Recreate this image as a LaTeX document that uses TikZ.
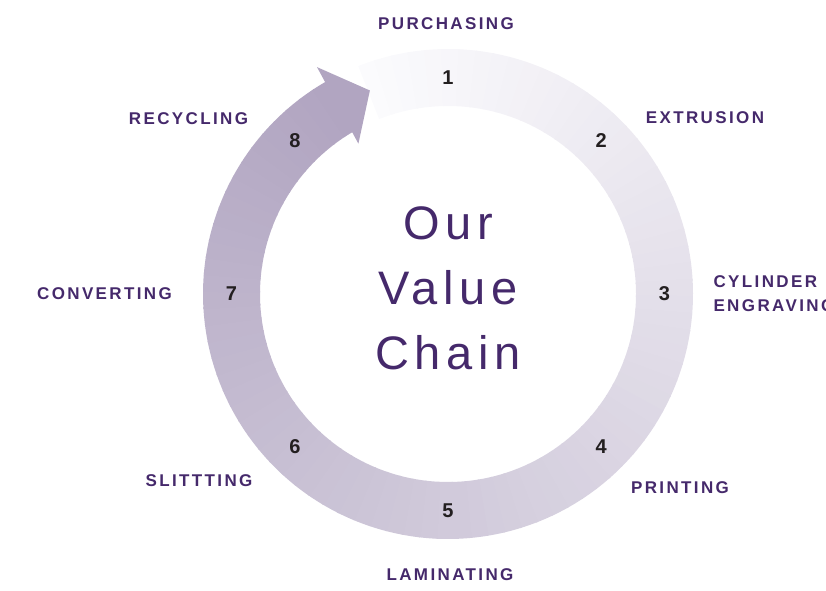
\documentclass[tikz,border=0pt]{standalone}
\usepackage{fontspec}
\setmainfont{Liberation Sans}
\newfontfamily\labelfont[LetterSpace=14]{Liberation Sans}
\newfontfamily\titlefont[LetterSpace=12]{Liberation Sans}
\definecolor{chainpurple}{HTML}{45296B}
\definecolor{ringstart}{HTML}{FBFBFD}
\definecolor{ringend}{HTML}{B1A5C1}
\definecolor{numgray}{HTML}{231F20}
\tikzset{
  steplabel/.style={text=chainpurple,font=\labelfont\bfseries\fontsize{17}{24}\selectfont},
  stepnum/.style={text=numgray,font=\bfseries\fontsize{20}{24}\selectfont},
  chaintitle/.style={text=chainpurple,align=center,font=\titlefont\fontsize{47}{65}\selectfont}
}
\begin{document}
\begin{tikzpicture}[x=1pt,y=1pt]
  \useasboundingbox (0,0) rectangle (826,590);
  \coordinate (c) at (448,296);
  % ring in small wedges, light to dark
  \foreach \i in {0,...,87}{
    \pgfmathsetmacro\a{111.5-4*\i}
    \pgfmathsetmacro\b{\a-4.4}
    \pgfmathsetmacro\p{100*\i/87}
    \fill[ringend!\p!ringstart,shift={(c)}] (\a:245) arc[start angle=\a,end angle=\b,radius=245]
      -- (\b:188) arc[start angle=\b,end angle=\a,radius=188] -- cycle;
  }
  % arrow head
  \fill[ringend,shift={(c)}] (120:262) -- (111:218) -- (120.8:175) -- cycle;
  % numbers
  \foreach \k in {1,...,8}
    \node[stepnum] (n\k) at ([shift={({135-45*\k}:216.5)}]c) {\k};
  % labels
  \node[steplabel] (purchasing) at (446,566) {PURCHASING};
  \node[steplabel] (extrusion) at (705,472) {EXTRUSION};
  \node[steplabel,anchor=west,align=left] (engraving) at (710,296) {CYLINDER\\ENGRAVING};
  \node[steplabel] (printing) at (680,102) {PRINTING};
  \node[steplabel] (laminating) at (450,15) {LAMINATING};
  \node[steplabel] (slitting) at (199,109) {SLITTTING};
  \node[steplabel] (converting) at (104.5,296) {CONVERTING};
  \node[steplabel] (recycling) at (188.5,471) {RECYCLING};
  \node[chaintitle] (title) at (448,302) {Our\\Value\\Chain};
\end{tikzpicture}
\end{document}
